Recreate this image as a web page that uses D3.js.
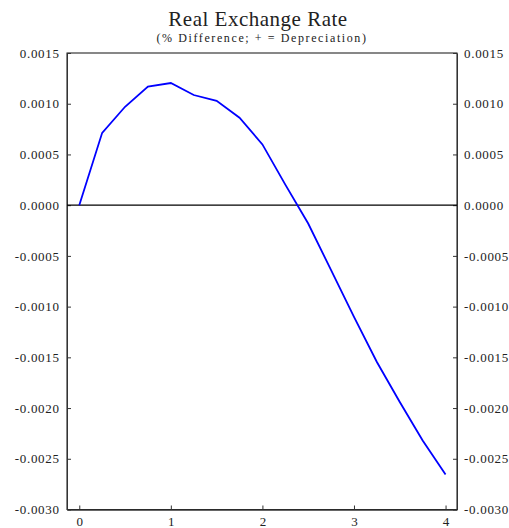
<!DOCTYPE html>
<html><head><meta charset="utf-8">
<script src="https://cdn.jsdelivr.net/npm/d3@7"></script>
<style>body{margin:0;background:#fff}svg{display:block}text{font-family:"Liberation Serif","Times New Roman",serif;fill:#222}</style>
</head><body>
<script>
const quarters = [0,0.25,0.5,0.75,1,1.25,1.5,1.75,2,2.25,2.5,2.75,3,3.25,3.5,3.75,4];
const values = [0,0.000713,0.000970,0.001168,0.001204,0.001086,0.001029,0.000862,0.000599,0.000203,-0.000181,-0.000641,-0.001102,-0.001546,-0.001941,-0.002319,-0.002655];
const yTicks = [0.0015,0.0010,0.0005,0.0000,-0.0005,-0.0010,-0.0015,-0.0020,-0.0025,-0.0030];
const xTicks = [0,1,2,3,4];
const title = "Real Exchange Rate";
const subtitle = "(% Difference; + = Depreciation)";

const W=509,H=528;
const L=67,R=457,T=53,B=509.5;
const svg=d3.select("body").append("svg").attr("width",W).attr("height",H);
const x=d3.scaleLinear().domain([-0.134,4.125]).range([L,R]);
const y=d3.scaleLinear().domain([-0.0030,0.0015]).range([B,T]);
const fmt=d=>d3.format(".4f")(d).replace("\u2212","-");

svg.append("text").attr("x",258).attr("y",26).attr("text-anchor","middle").style("font-size","21px").style("letter-spacing","0.5px").text(title);
svg.append("text").attr("x",262).attr("y",42.3).attr("text-anchor","middle").style("font-size","12px").style("letter-spacing","1.6px").text(subtitle);

svg.append("rect").attr("x",L).attr("y",T).attr("width",R-L).attr("height",B-T).attr("fill","none").attr("stroke","#111").attr("stroke-width",1);

const ya=svg.append("g").attr("transform",`translate(${L},0)`).call(d3.axisLeft(y).tickValues(yTicks).tickFormat(fmt).tickSizeInner(-4).tickSizeOuter(0).tickPadding(7.3));
const yb=svg.append("g").attr("transform",`translate(${R},0)`).call(d3.axisRight(y).tickValues(yTicks).tickFormat(fmt).tickSizeInner(-4).tickSizeOuter(0).tickPadding(7));
const xa=svg.append("g").attr("transform",`translate(0,${B})`).call(d3.axisBottom(x).tickValues(xTicks).tickFormat(d3.format("d")).tickSizeInner(-4).tickSizeOuter(0).tickPadding(7));
[ya,yb,xa].forEach(g=>{g.select(".domain").attr("stroke","#333");g.selectAll("line").attr("stroke","#333");g.selectAll("text").style("font-size","13px").style("letter-spacing","0.7px").style("font-family",'"Liberation Serif",serif').attr("fill","#222");});
xa.selectAll("text").style("letter-spacing","0px");
xa.select(".domain").attr("stroke-width",1.5);

svg.append("line").attr("x1",L).attr("x2",R).attr("y1",y(0)).attr("y2",y(0)).attr("stroke","#000").attr("stroke-width",1.2);

svg.append("path").datum(quarters.map((q,i)=>[q,values[i]]))
 .attr("d",d3.line().x(d=>x(d[0])).y(d=>y(d[1])))
 .attr("fill","none").attr("stroke","#0000ff").attr("stroke-width",1.8);
</script>
</body></html>
